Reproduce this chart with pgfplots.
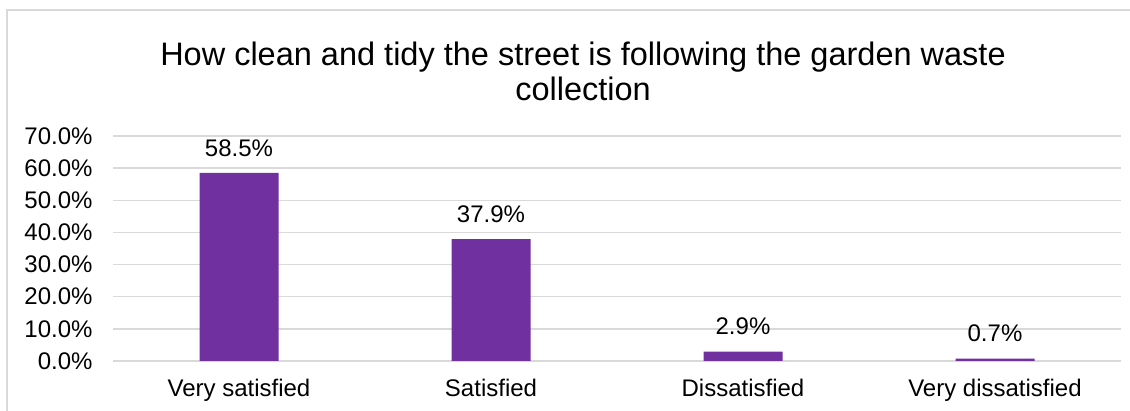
\documentclass[border=0pt]{standalone}
\usepackage{fontspec}
\setmainfont{Liberation Sans}
\usepackage{pgfplots}
\pgfplotsset{compat=1.18}
\definecolor{barpurple}{HTML}{7030A0}
\definecolor{gridgray}{HTML}{D9D9D9}
\begin{document}
\begin{tikzpicture}
\path[use as bounding box] (0,0) rectangle (1130pt,411pt);
\draw[gridgray, line width=1.5pt] (7pt,-10pt) -- (7pt,401pt) -- (1140pt,401pt);
\node[align=center, font=\fontsize{32.5}{35}\selectfont, anchor=base] at (583pt,310pt) {How clean and tidy the street is following the garden waste\\collection};
\begin{axis}[
  at={(113pt,50pt)}, anchor=south west,
  scale only axis, width=1008pt, height=225pt,
  xmin=-0.5, xmax=3.5, ymin=0, ymax=70,
  ytick={0,10,...,70},
  xtick=data,
  xticklabels={Very satisfied, Satisfied, Dissatisfied, Very dissatisfied},
  ymajorgrids, grid style={gridgray, line width=1.3pt},
  axis line style={draw=none},
  major tick length=0,
  /pgf/number format/assume math mode=true,
  ticklabel style={font=\fontsize{24}{28}\selectfont},
  yticklabel={\pgfmathprintnumber[fixed,fixed zerofill,precision=1]{\tick}\%},
  yticklabel style={xshift=-17pt},
  xticklabel style={yshift=-15pt},
  ybar, bar width=79pt,
  nodes near coords={\pgfmathprintnumber[fixed,fixed zerofill,precision=1]{\pgfplotspointmeta}\%},
  nodes near coords style={font=\fontsize{24}{28}\selectfont, color=black, yshift=13pt},
  clip=false,
]
\addplot[fill=barpurple, draw=none] coordinates {(0,58.5) (1,37.9) (2,2.9) (3,0.7)};
\end{axis}
\end{tikzpicture}
\end{document}
